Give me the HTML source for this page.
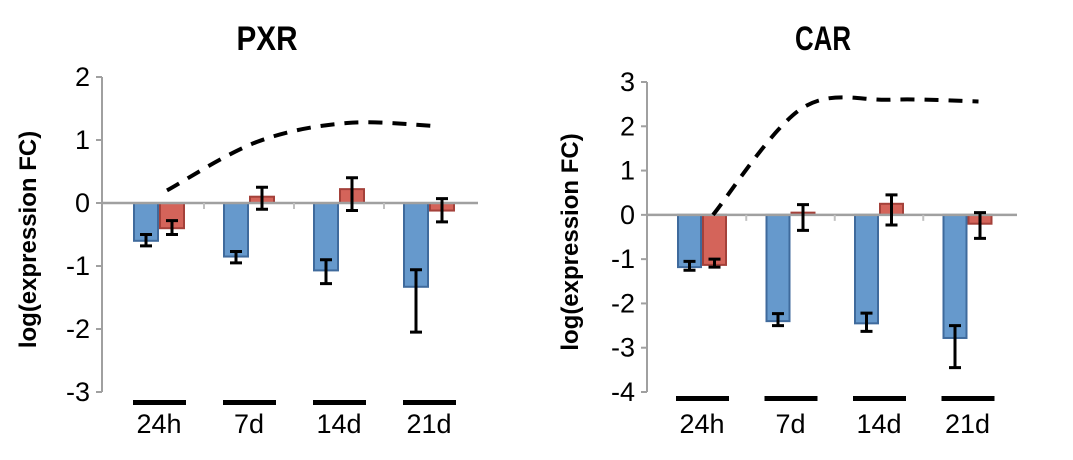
<!DOCTYPE html>
<html><head><meta charset="utf-8"><style>
html,body{margin:0;padding:0;background:#fff;}
svg{display:block;font-family:"Liberation Sans",Arial,sans-serif;}
</style></head><body>
<svg id="c" width="1073" height="460" viewBox="0 0 1073 460" xmlns="http://www.w3.org/2000/svg"></svg>
<script>
const categories = ["24h","7d","14d","21d"];
const pxrBlue = [-0.6,-0.85,-1.07,-1.33];
const pxrRed = [-0.4,0.1,0.22,-0.12];
const pxrBlueLo = [-0.68,-0.95,-1.28,-2.05];
const pxrBlueHi = [-0.5,-0.77,-0.9,-1.06];
const pxrRedLo = [-0.5,-0.1,-0.12,-0.3];
const pxrRedHi = [-0.28,0.25,0.4,0.07];
const pxrLine = [0.2,0.97,1.27,1.22];
const pxrTicks = [2,1,0,-1,-2,-3];
const carBlue = [-1.18,-2.4,-2.45,-2.78];
const carRed = [-1.13,0.05,0.25,-0.2];
const carBlueLo = [-1.25,-2.5,-2.63,-3.45];
const carBlueHi = [-1.05,-2.23,-2.22,-2.5];
const carRedLo = [-1.18,-0.35,-0.23,-0.53];
const carRedHi = [-1.0,0.23,0.45,0.05];
const carLine = [0,2.4,2.6,2.56];
const carTicks = [3,2,1,0,-1,-2,-3,-4];

const NS="http://www.w3.org/2000/svg";
const svg=document.getElementById('c');
function mk(tag,attrs,parent){const e=document.createElementNS(NS,tag);for(const k in attrs)e.setAttribute(k,attrs[k]);(parent||svg).appendChild(e);return e;}

function chart(o){
  const g=mk('g',{});
  
  
  const yMax=o.ticks[0], yMin=o.ticks[o.ticks.length-1];
  const y=v=>o.yTop+(yMax-v)/(yMax-yMin)*(o.yBot-o.yTop);
  const cx=i=>o.c0+i*o.step;
  const t=mk('text',{x:o.titleX,y:50,'font-size':34,'font-weight':'bold','text-anchor':'middle',textLength:o.titleW,lengthAdjust:'spacingAndGlyphs'},g);
  t.textContent=o.title;
  
  
  const yl=mk('text',{x:0,y:0,'font-size':24,'font-weight':'bold','text-anchor':'middle',transform:`translate(${o.ylX},${(o.yTop+o.yBot)/2+5}) rotate(-90)`},g);
  yl.textContent='log(expression FC)';
  
  
  const ax=mk('line',{x1:o.axX,y1:o.yTop,x2:o.axX,y2:o.yBot,stroke:'#a0a0a0','stroke-width':2},g);
  
  
  o.ticks.forEach(v=>{
    const tk=mk('line',{x1:o.axX-6,y1:y(v),x2:o.axX,y2:y(v),stroke:'#a0a0a0','stroke-width':2},g);
    
    
    const tl=mk('text',{x:o.axX-12,y:y(v)+9,'font-size':27,'text-anchor':'end'},g);
    tl.textContent=String(v);
    
    
  });
  const bw=o.bw;
  categories.forEach((c,i)=>{
    const xb=cx(i)-bw, xr=cx(i);
    [[o.blue[i],xb,'#6699cc','#3f6a9c','blue'],[o.red[i],xr,'#d4645a','#a4413a','red']].forEach(([v,x,f,s,n])=>{
      const top=Math.min(y(v),y(0)),h=Math.abs(y(v)-y(0));
      const r=mk('rect',{x:x+1,y:top,width:bw-2,height:Math.max(h,1),fill:f,stroke:s,'stroke-width':2},g);
      
      
    });
  });
  const z=mk('line',{x1:o.axX,y1:y(0),x2:o.zEnd,y2:y(0),stroke:'#a0a0a0','stroke-width':2.5},g);
  
  
  for(let i=1;i<categories.length;i++){
    const bx=(cx(i-1)+cx(i))/2;
    const tk=mk('line',{x1:bx,y1:y(0),x2:bx,y2:y(0)+6,stroke:'#c0c0c0','stroke-width':2},g);
    
    
  }
  categories.forEach((c,i)=>{
    [[o.blueLo[i],o.blueHi[i],cx(i)-bw/2,'blue'],[o.redLo[i],o.redHi[i],cx(i)+bw/2,'red']].forEach(([lo,hi,x,n])=>{
      const e=mk('path',{d:`M${x},${y(lo)}V${y(hi)}M${x-6},${y(lo)}H${x+6}M${x-6},${y(hi)}H${x+6}`,stroke:'#000','stroke-width':3,fill:'none'},g);
      
      
    });
  });
  const pts=o.line.map((v,i)=>[cx(i)+o.lineOff,y(v)]);
  let d=`M${pts[0][0]},${pts[0][1]}`;
  for(let i=0;i<pts.length-1;i++){
    const p0=pts[Math.max(i-1,0)],p1=pts[i],p2=pts[i+1],p3=pts[Math.min(i+2,pts.length-1)];
    d+=`C${p1[0]+(p2[0]-p0[0])/6},${p1[1]+(p2[1]-p0[1])/6} ${p2[0]-(p3[0]-p1[0])/6},${p2[1]-(p3[1]-p1[1])/6} ${p2[0]},${p2[1]}`;
  }
  const ln=mk('path',{d,stroke:'#000','stroke-width':4,fill:'none','stroke-dasharray':'14,10'},g);
  
  
  categories.forEach((c,i)=>{
    const u=mk('rect',{x:cx(i)-26,y:o.ulY-2,width:53,height:5,fill:'#000'},g);
    
    
    const l=mk('text',{x:cx(i),y:433,'font-size':27,'text-anchor':'middle'},g);
    l.textContent=c;
    
    
  });
}
chart({name:'pxr',title:'PXR',titleX:267,titleW:61,ylX:36,axX:102,yTop:77,yBot:392,ticks:pxrTicks,
  c0:159,step:90,bw:26,zEnd:478,blue:pxrBlue,red:pxrRed,blueLo:pxrBlueLo,blueHi:pxrBlueHi,redLo:pxrRedLo,redHi:pxrRedHi,
  line:pxrLine,lineOff:8,ulY:402});
chart({name:'car',title:'CAR',titleX:823,titleW:56,ylX:578,axX:647,yTop:82,yBot:392,ticks:carTicks,
  c0:702,step:88.5,bw:25,zEnd:1017,blue:carBlue,red:carRed,blueLo:carBlueLo,blueHi:carBlueHi,redLo:carRedLo,redHi:carRedHi,
  line:carLine,lineOff:11,ulY:398});
</script>
</body></html>
